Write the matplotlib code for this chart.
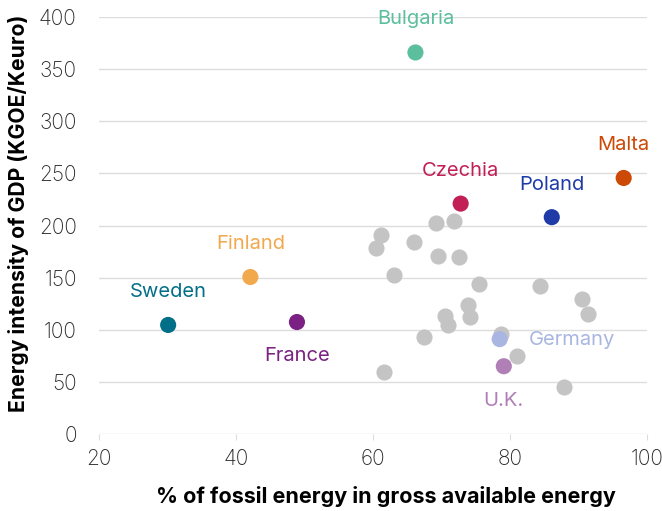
import matplotlib.pyplot as plt

# labelled countries: fossil share (%), energy intensity (KGOE/Keuro)
countries = ['Bulgaria', 'Malta', 'Czechia', 'Poland', 'Finland', 'Sweden', 'France', 'Germany', 'U.K.']
fossil = [66.2, 96.6, 72.8, 86.1, 42.1, 30.1, 48.9, 78.5, 79.1]
intensity = [366, 245.6, 221, 208, 150.6, 104.6, 107.4, 91, 65]
colors = ['#5bbf9d', '#cc4a06', '#c21f56', '#1f3ba8', '#f2a94e', '#006f87', '#7a2183', '#a9b6e2', '#b07fb6']

# other countries (unlabelled)
other_fossil = [69.2, 71.8, 61.2, 60.4, 66.0, 69.5, 72.5, 63.1, 75.5, 84.4, 90.5,
                91.4, 73.8, 74.2, 70.5, 70.9, 67.5, 78.7, 81.0, 61.6, 87.9]
other_intensity = [202, 204.3, 191, 178.7, 184.5, 171, 169.5, 152.5, 144, 142, 129.5,
                   115, 124, 112.6, 113.2, 104.6, 93.4, 96, 74.8, 59.7, 44.8]

plt.rcParams['font.family'] = ['Inter', 'DejaVu Sans']

fig = plt.figure(figsize=(6.62, 5.11), dpi=100)
ax = fig.add_axes([0.1495, 0.1507, 0.8278, 0.816])

ax.scatter(other_fossil, other_intensity, s=135, color='#c4c4c4', zorder=3, linewidths=0)
ax.scatter(fossil, intensity, s=135, color=colors, zorder=4, linewidths=0)

# label offsets in pixels
offsets = {'Bulgaria': (0, 33), 'Malta': (0, 33), 'Czechia': (0, 33), 'Poland': (0, 32),
           'Finland': (0, 33), 'Sweden': (0, 33), 'France': (0, -34), 'Germany': (72, -1),
           'U.K.': (0, -35)}
for name, x, y, c in zip(countries, fossil, intensity, colors):
    ax.annotate(name, (x, y), xytext=offsets[name], textcoords='offset pixels',
                ha='center', va='center', color=c, fontsize=14.5)

ax.set_xlim(20, 100)
ax.set_ylim(0, 400)
ax.set_xticks([20, 40, 60, 80, 100])
ax.set_yticks(range(0, 401, 50))
ax.grid(axis='y', color='#dddddd', linewidth=1)
ax.set_axisbelow(True)
for s in ax.spines.values():
    s.set_visible(False)
ax.tick_params(axis='x', length=4, color='#dddddd', labelsize=15, labelcolor='#2a2a2a', pad=7)
ax.tick_params(axis='y', length=0, labelsize=15, labelcolor='#2a2a2a', pad=16)
for lab in ax.get_xticklabels() + ax.get_yticklabels():
    lab.set_fontweight('light')

ax.set_xlabel('% of fossil energy in gross available energy', fontsize=15.5, fontweight='bold')
ax.set_ylabel('Energy intensity of GDP (KGOE/Keuro)', fontsize=15.2, fontweight='bold')
ax.xaxis.set_label_coords(0.524, -0.125)
ax.yaxis.set_label_coords(-0.128, 0.529)

fig.savefig('out.png', dpi=100)
